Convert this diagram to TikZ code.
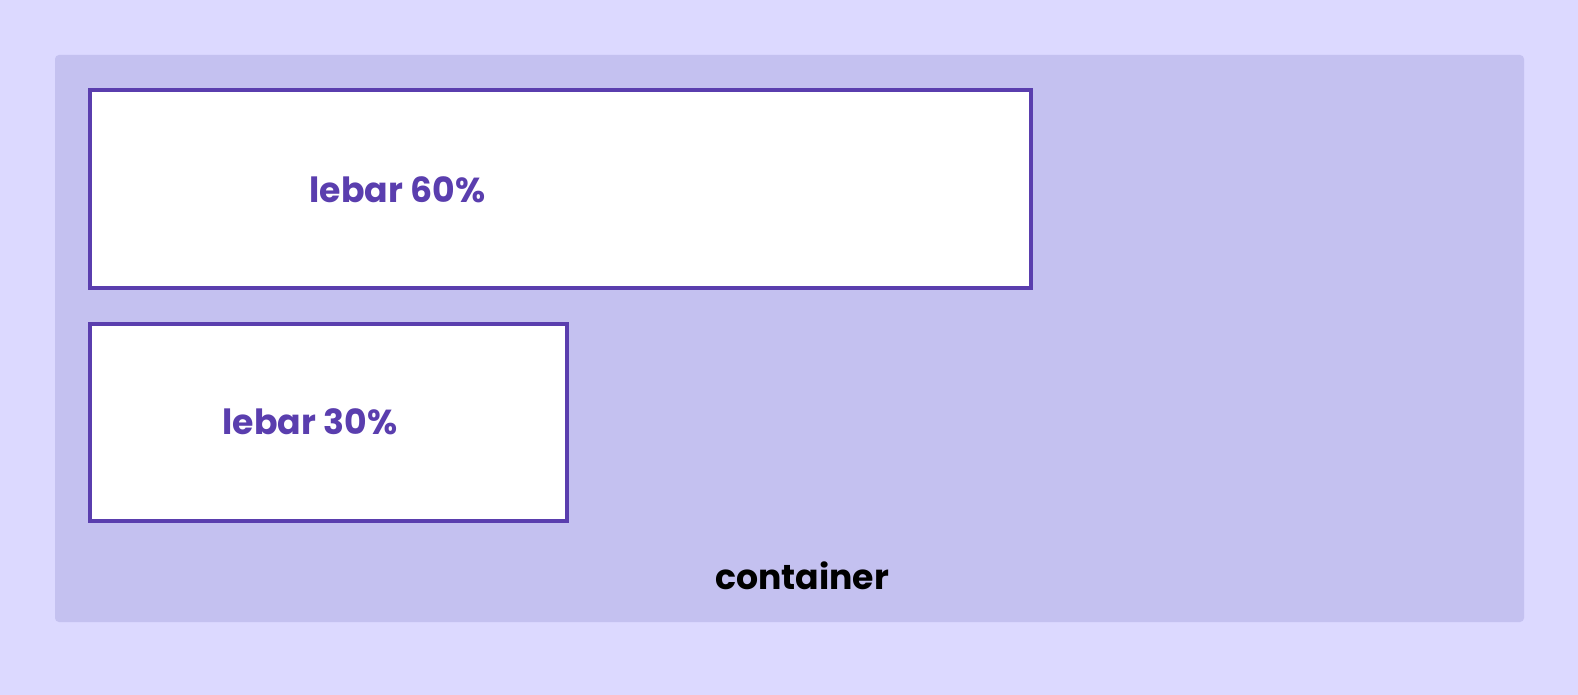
\documentclass[tikz,border=0pt]{standalone}
\usepackage{fontspec}
\setmainfont{Poppins}
\definecolor{pagebg}{HTML}{DCD9FF}
\definecolor{contbg}{HTML}{C4C1F0}
\definecolor{barline}{HTML}{5A3EAE}
\begin{document}
\begin{tikzpicture}[x=0.75pt,y=-0.75pt]

        \fill[pagebg] (0,0) rectangle (1578,695);
        \useasboundingbox (0,0) rectangle (1578,695);

        \node[fill=contbg,rounded corners=3pt,minimum width=1101.75pt,minimum height=425.25pt,inner sep=0pt] (cont) at (789.5,338.5) {};

        \begin{scope}[every node/.style={draw=barline,fill=white,line width=3.2pt,inner sep=0pt}]
          \node[minimum width=705.5pt,minimum height=148.3pt] (bar60) at (560.5,189) {};
          \node[minimum width=357.5pt,minimum height=147.5pt] (bar30) at (328.5,422.5) {};
        \end{scope}

        \begin{scope}[every node/.style={font=\bfseries\fontsize{26}{30}\selectfont,inner sep=0pt}]
          \node[text=barline] (lbl60) at (397.5,190) {lebar 60\%};
          \node[text=barline] (lbl30) at (310,422) {lebar 30\%};
          \node[text=black] (lblcont) at (802,576) {container};
        \end{scope}

      \end{tikzpicture}
\end{document}
